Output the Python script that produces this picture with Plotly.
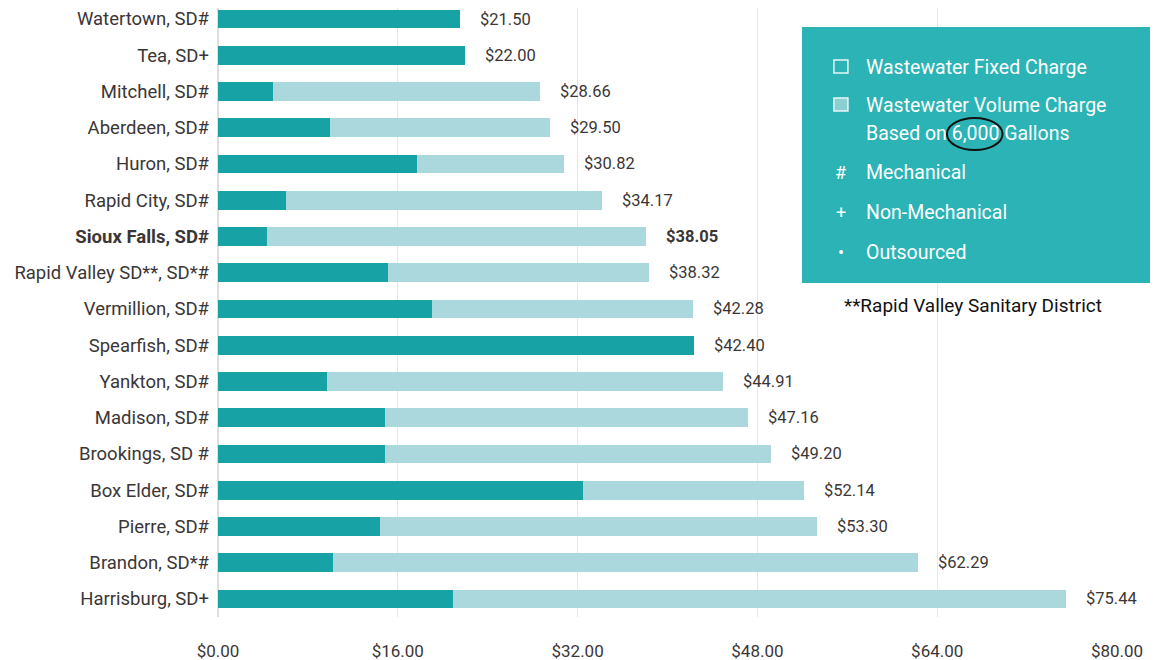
import plotly.graph_objects as go

# cities, top to bottom
cities = ["Watertown, SD#", "Tea, SD+", "Mitchell, SD#", "Aberdeen, SD#", "Huron, SD#",
          "Rapid City, SD#", "Sioux Falls, SD#", "Rapid Valley SD**, SD*#", "Vermillion, SD#",
          "Spearfish, SD#", "Yankton, SD#", "Madison, SD#", "Brookings, SD #", "Box Elder, SD#",
          "Pierre, SD#", "Brandon, SD*#", "Harrisburg, SD+"]
totals = [21.50, 22.00, 28.66, 29.50, 30.82, 34.17, 38.05, 38.32, 42.28,
          42.40, 44.91, 47.16, 49.20, 52.14, 53.30, 62.29, 75.44]
fixed_charge = [21.50, 22.00, 4.90, 10.00, 17.70, 6.05, 4.40, 15.10, 19.00,
                42.40, 9.70, 14.90, 14.85, 32.50, 14.40, 10.20, 20.90]
volume_charge = [round(t - f, 2) for t, f in zip(totals, fixed_charge)]
highlight = "Sioux Falls, SD#"

tick_vals = [0, 16, 32, 48, 64, 80]
tick_text = ["$0.00", "$16.00", "$32.00", "$48.00", "$64.00", "$80.00"]

DARK = "#17a3a6"
LIGHT = "#aad8dc"
BOX = "#2bb3b5"
TXT = "#3b3636"
FONT = "Roboto, Arial"

labels = [f"<b>{c}</b>" if c == highlight else c for c in cities]

fig = go.Figure()
fig.add_trace(go.Bar(y=labels, x=fixed_charge, orientation="h", name="Wastewater Fixed Charge",
                     marker_color=DARK, marker_line_width=0))
fig.add_trace(go.Bar(y=labels, x=volume_charge, orientation="h", name="Wastewater Volume Charge",
                     marker_color=LIGHT, marker_line_width=0))

# total labels at end of each bar
for lab, c, t in zip(labels, cities, totals):
    txt = f"${t:.2f}"
    if c == highlight:
        txt = f"<b>{txt}</b>"
    fig.add_annotation(x=t, y=lab, text=txt, showarrow=False, xanchor="left", xshift=18,
                       font=dict(size=16.5, color=TXT, family=FONT))

# legend box
fig.add_shape(type="rect", xref="paper", yref="paper", x0=0.6496, x1=1.0367, y0=0.5484, y1=0.9688,
              fillcolor=BOX, line_width=0, layer="above")
# icons
fig.add_shape(type="rect", xref="paper", yref="paper", x0=0.6851, x1=0.7007, y0=0.8933, y1=0.9146,
              fillcolor=BOX, line=dict(color="#e8f6f6", width=1.5), layer="above")
fig.add_shape(type="rect", xref="paper", yref="paper", x0=0.6851, x1=0.7007, y0=0.8309, y1=0.8522,
              fillcolor="#8ccfd1", line=dict(color="#e8f6f6", width=1.5), layer="above")
# circle around 6,000
fig.add_shape(type="circle", xref="paper", yref="paper", x0=0.8108, x1=0.8727, y0=0.7668, y1=0.8194,
              fillcolor="rgba(0,0,0,0)", line=dict(color="#111111", width=2), layer="above")

legend_items = [
    (0.9031, None, "Wastewater Fixed Charge"),
    (0.8391, None, "Wastewater Volume Charge"),
    (0.7947, None, "Based on 6,000 Gallons"),
    (0.7307, "#", "Mechanical"),
    (0.6650, "+", "Non-Mechanical"),
    (0.5993, "•", "Outsourced"),
]
for yy, sym, txt in legend_items:
    fig.add_annotation(xref="paper", yref="paper", x=0.719, y=yy, text=txt, showarrow=False,
                       xanchor="left", yanchor="middle", font=dict(size=19.5, color="white", family=FONT))
    if sym:
        fig.add_annotation(xref="paper", yref="paper", x=0.6929, y=yy, text=sym, showarrow=False,
                           xanchor="center", yanchor="middle",
                           font=dict(size=18, color="white", family=FONT))

fig.add_annotation(xref="paper", yref="paper", x=0.8397, y=0.5107, text="**Rapid Valley Sanitary District",
                   showarrow=False, xanchor="center", yanchor="middle",
                   font=dict(size=19, color="#111111", family=FONT))

fig.update_layout(
    width=1153, height=652,
    barmode="stack", bargap=0.48,
    showlegend=False,
    plot_bgcolor="white", paper_bgcolor="white",
    margin=dict(l=210, r=44, t=0, b=43, autoexpand=False),
    font=dict(family=FONT, color=TXT, size=19),
    xaxis=dict(range=[0, 80], tickvals=tick_vals, ticktext=tick_text, showgrid=True,
               gridcolor="#ebe6e6", gridwidth=1, zeroline=True, zerolinecolor="#e2dddd",
               ticks="", tickfont=dict(size=17, color=TXT), showline=False,
               automargin=False, ticklabelstandoff=22),
    yaxis=dict(range=[16.497, -0.3034], ticks="", ticklabelstandoff=8, tickfont=dict(size=18.5, color=TXT),
               showgrid=False, showline=False, automargin=False),
)

fig.write_html("out.html")
